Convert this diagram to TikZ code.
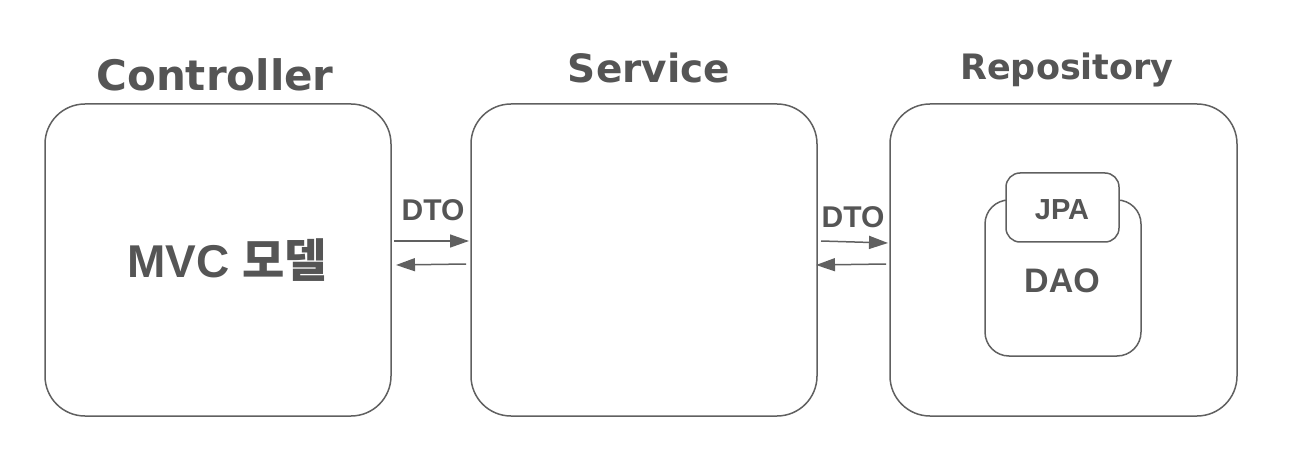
\documentclass[tikz,border=0pt]{standalone}
\usepackage{fontspec}
\setmainfont{Liberation Sans}
\newfontfamily\titlefont{DejaVu Sans}
\newfontfamily\kr{Noto Sans CJK KR}
\usetikzlibrary{arrows.meta}
\definecolor{txt}{HTML}{555555}
\definecolor{edge}{HTML}{606060}
\tikzset{
  bigbox/.style={draw=edge, line width=1.5pt, rounded corners=40pt},
  dao/.style={draw=edge, line width=1.5pt, rounded corners=24pt, fill=white},
  jpa/.style={draw=edge, line width=1.5pt, rounded corners=14pt, fill=white},
  title/.style={text=txt, font=\titlefont\bfseries, inner sep=0pt},
  lbl/.style={text=txt, font=\bfseries\fontsize{30}{33}\selectfont, inner sep=0pt},
  arr/.style={draw=edge, line width=1.5pt, -{Triangle[length=19pt,width=13pt]}},
}
\begin{document}
\begin{tikzpicture}[x=1pt,y=-1pt]
\useasboundingbox (0,0) rectangle (1313,470);
\draw[bigbox] (45,104) rectangle (391,416);
\draw[bigbox] (471,104) rectangle (817,416);
\draw[bigbox] (890,104) rectangle (1237,416);
\node[title] (tc) at (215,75) {\fontsize{42}{45}\selectfont Controller};
\node[title] (ts) at (649,68) {\fontsize{39}{42}\selectfont Service};
\node[title] (tr) at (1067,70) {\fontsize{35}{38}\selectfont Repository};
\node[text=txt, inner sep=0pt, font=\bfseries\fontsize{46}{50}\selectfont] (mvc) at (227,260) {MVC {\kr\bfseries 모델}};
\draw[dao] (985,200) rectangle (1141,356);
\node[text=txt, inner sep=0pt, font=\bfseries\fontsize{34}{37}\selectfont] (daot) at (1062,281) {DAO};
\draw[jpa] (1006,173) rectangle (1119,242);
\node[text=txt, inner sep=0pt, font=\bfseries\fontsize{29}{32}\selectfont] (jpat) at (1062,210) {JPA};
\node[lbl] (d1) at (433,210) {DTO};
\node[lbl] (d2) at (853,217) {DTO};
\coordinate (a1s) at (394,241); \coordinate (a1e) at (469,241);
\coordinate (a2s) at (466,264); \coordinate (a2e) at (396,265);
\coordinate (a3s) at (821,241); \coordinate (a3e) at (888,243);
\coordinate (a4s) at (886,264); \coordinate (a4e) at (816,265);
\draw[arr] (a1s) -- (a1e);
\draw[arr] (a2s) -- (a2e);
\draw[arr] (a3s) -- (a3e);
\draw[arr] (a4s) -- (a4e);
\end{tikzpicture}
\end{document}
